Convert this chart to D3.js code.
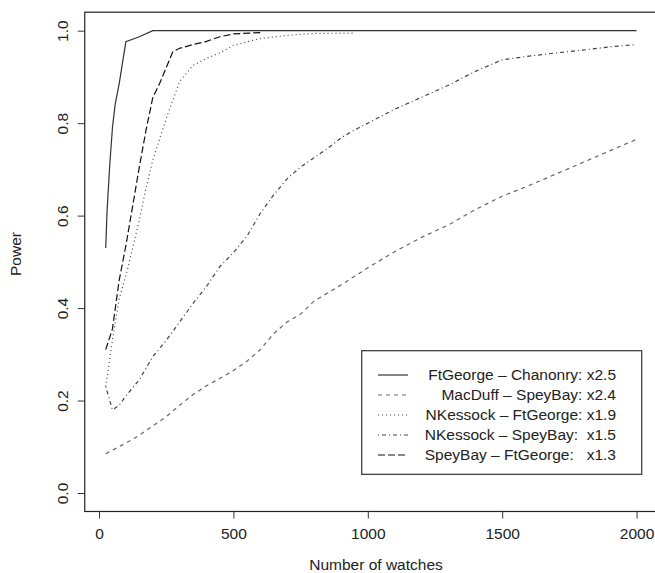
<!DOCTYPE html>
<html>
<head>
<meta charset="utf-8">
<script src="https://cdn.jsdelivr.net/npm/d3@7"></script>
<style>
  body { margin: 0; background: #fff; }
  text { font-family: "Liberation Sans", Arial, Helvetica, sans-serif; fill: #222; }
</style>
</head>
<body>
<svg id="chart" width="655" height="573"></svg>
<script>
// ---- data: number of watches vs power ----
var xTicks = [0, 500, 1000, 1500, 2000];
var yTicks = [0, 0.2, 0.4, 0.6, 0.8, 1.0];

var ftGeorgeChanonry = [[25,0.53],[30,0.61],[40,0.71],[50,0.79],[60,0.84],[75,0.885],[90,0.94],[100,0.976],[150,0.987],[200,1.0],[500,1.0],[1000,1.0],[1500,1.0],[2000,1.0]];
var macDuffSpeyBay = [[25,0.085],[100,0.108],[150,0.125],[200,0.145],[250,0.165],[300,0.19],[350,0.213],[400,0.232],[450,0.248],[500,0.265],[550,0.285],[600,0.31],[650,0.345],[700,0.37],[750,0.387],[800,0.415],[900,0.45],[1000,0.487],[1100,0.522],[1200,0.553],[1300,0.58],[1400,0.613],[1500,0.642],[1600,0.665],[1700,0.69],[1800,0.715],[1900,0.74],[2000,0.765]];
var nKessockFtGeorge = [[25,0.23],[50,0.33],[75,0.42],[100,0.47],[125,0.53],[150,0.59],[175,0.66],[200,0.72],[250,0.81],[300,0.89],[350,0.925],[400,0.94],[450,0.952],[500,0.968],[600,0.983],[700,0.99],[800,0.994],[950,0.995]];
var nKessockSpeyBay = [[25,0.23],[50,0.18],[75,0.19],[100,0.21],[150,0.245],[200,0.295],[250,0.33],[300,0.37],[350,0.41],[400,0.447],[450,0.49],[500,0.52],[550,0.555],[600,0.605],[650,0.645],[700,0.68],[750,0.705],[800,0.725],[850,0.745],[900,0.768],[950,0.785],[1000,0.80],[1100,0.83],[1200,0.856],[1300,0.882],[1400,0.912],[1500,0.937],[1600,0.945],[1700,0.952],[1800,0.958],[1900,0.965],[2000,0.97]];
var speyBayFtGeorge = [[25,0.31],[50,0.355],[75,0.46],[100,0.535],[125,0.62],[150,0.705],[175,0.785],[200,0.855],[225,0.885],[250,0.92],[275,0.955],[300,0.962],[350,0.97],[400,0.977],[450,0.987],[500,0.993],[600,0.996]];

var legendLabels = ["FtGeorge \u2013 Chanonry: x2.5", "MacDuff \u2013 SpeyBay: x2.4", "NKessock \u2013 FtGeorge: x1.9", "NKessock \u2013 SpeyBay:  x1.5", "SpeyBay \u2013 FtGeorge:   x1.3"];

var series = [
  {data: ftGeorgeChanonry, dash: null,      color: "#333"},
  {data: macDuffSpeyBay,   dash: "4,4",     color: "#666"},
  {data: nKessockFtGeorge, dash: "1,3",     color: "#444"},
  {data: nKessockSpeyBay,  dash: "1,3,4,3", color: "#444"},
  {data: speyBayFtGeorge,  dash: "7,3",     color: "#111"}
];

// ---- layout (R style plot region) ----
var svg = d3.select("#chart");
var FONT = "15.5px";
var x = d3.scaleLinear().domain([0, 2000]).range([99, 636.6]);
var y = d3.scaleLinear().domain([0, 1]).range([493, 30.7]);
var boxL = x(-53), boxR = x(2079), boxT = y(1.04), boxB = y(-0.04);

// box
svg.append("rect")
  .attr("x", boxL).attr("y", boxT)
  .attr("width", boxR - boxL).attr("height", boxB - boxT)
  .attr("fill", "none").attr("stroke", "#222").attr("stroke-width", 1.2);

// x axis
var gx = svg.append("g").attr("transform", "translate(0," + boxB + ")")
  .call(d3.axisBottom(x).tickValues(xTicks).tickSize(7).tickPadding(10).tickFormat(d3.format("d")));
gx.select(".domain").remove();
gx.selectAll("line").attr("stroke", "#333");
gx.selectAll("text").attr("font-size", FONT).attr("fill", "#222").attr("font-family", null);

// y axis, rotated tick labels
var gy = svg.append("g").attr("transform", "translate(" + boxL + ",0)")
  .call(d3.axisLeft(y).tickValues(yTicks).tickSize(7).tickFormat(d3.format(".1f")));
gy.select(".domain").remove();
gy.selectAll("line").attr("stroke", "#333");
gy.selectAll("text")
  .attr("font-size", FONT).attr("fill", "#222").attr("font-family", null)
  .attr("x", null).attr("dy", null)
  .attr("text-anchor", "middle")
  .attr("transform", "translate(-17,0) rotate(-90)");

// axis titles
svg.append("text").attr("x", 376).attr("y", 570)
  .attr("text-anchor", "middle").attr("font-size", FONT).text("Number of watches");
svg.append("text").attr("transform", "translate(21,254) rotate(-90)")
  .attr("text-anchor", "middle").attr("font-size", FONT).text("Power");

// curves
var line = d3.line().x(function(d){ return x(d[0]); }).y(function(d){ return y(d[1]); });
series.forEach(function(s){
  svg.append("path").datum(s.data)
    .attr("d", line)
    .attr("fill", "none")
    .attr("stroke", s.color)
    .attr("stroke-width", 1.2)
    .attr("stroke-dasharray", s.dash);
});

// legend
var lg = svg.append("g").attr("id", "legend");
lg.append("rect").attr("x", 361.7).attr("y", 350.7).attr("width", 280).attr("height", 123.6)
  .attr("fill", "#fff").attr("stroke", "#333").attr("stroke-width", 1.2);
series.forEach(function(s, i){
  var yy = 375 + i * 20;
  lg.append("line").attr("x1", 378).attr("x2", 408).attr("y1", yy).attr("y2", yy)
    .attr("stroke", s.color).attr("stroke-width", 1.2).attr("stroke-dasharray", s.dash);
  lg.append("text").attr("x", 616).attr("y", yy).attr("dy", "0.35em")
    .attr("text-anchor", "end").attr("font-size", FONT)
    .style("white-space", "pre").text(legendLabels[i]);
});
</script>
</body>
</html>
